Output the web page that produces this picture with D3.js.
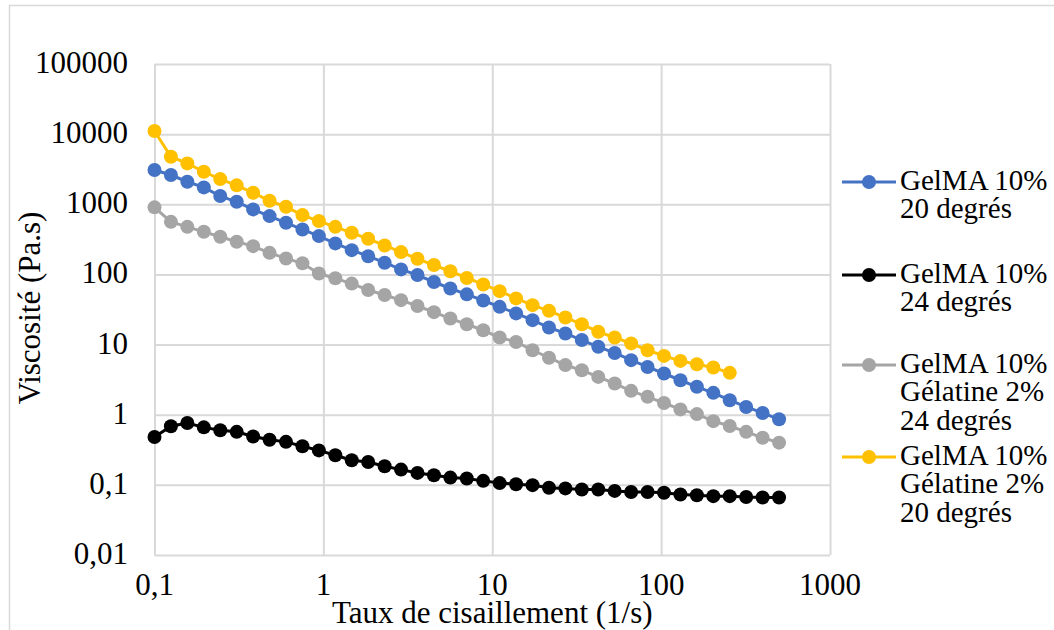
<!DOCTYPE html>
<html>
<head>
<meta charset="utf-8">
<script src="https://cdn.jsdelivr.net/npm/d3@7"></script>
</head>
<body style="margin:0">
<div id="chart"></div>
<script>
// shear rates (1/s), log ramp
var shearRate = [0.1, 0.1251, 0.1565, 0.1959, 0.2451, 0.3067, 0.3837, 0.4801, 0.6007, 0.7516,
    0.9404, 1.177, 1.472, 1.842, 2.305, 2.884, 3.608, 4.514, 5.648, 7.067,
    8.842, 11.06, 13.84, 17.32, 21.67, 27.11, 33.92, 42.44, 53.10, 66.44,
    83.13, 104.0, 130.1, 162.8, 203.7, 254.9, 318.9, 399.0, 499.3];

// viscosity (Pa.s) per series
var gelma20 = [3076, 2612, 2095, 1742, 1310, 1086, 845, 679, 545, 438,
    352, 277, 222, 182, 147, 118, 98, 78, 63, 52,
    42.5, 34.5, 27.8, 22.3, 17.5, 14.4, 11.6, 9.3, 7.6, 6.0,
    4.8, 3.87, 3.1, 2.5, 2.05, 1.61, 1.29, 1.06, 0.86];
var gelma24 = [0.48, 0.685, 0.76, 0.66, 0.60, 0.57, 0.49, 0.44, 0.41, 0.355,
    0.31, 0.264, 0.224, 0.212, 0.184, 0.165, 0.148, 0.137, 0.127, 0.123,
    0.114, 0.106, 0.102, 0.099, 0.091, 0.089, 0.086, 0.086, 0.082, 0.079,
    0.079, 0.077, 0.073, 0.071, 0.069, 0.069, 0.067, 0.066, 0.066];
var gelmaGel24 = [904, 562, 477, 405, 344, 292, 253, 203, 169, 144,
    103, 88, 74, 60, 51, 43, 35.5, 29, 23.5, 19.5,
    16, 12.6, 10.9, 8.3, 6.5, 5.1, 4.3, 3.46, 2.78, 2.19,
    1.8, 1.47, 1.19, 1.02, 0.81, 0.69, 0.57, 0.47, 0.40];
var gelmaGel20 = [11070, 4760, 3830, 2910, 2285, 1862, 1460, 1122, 921, 701,
    576, 477, 392, 322, 259, 208, 167, 136, 111, 89,
    72, 57.8, 45.5, 36.5, 30.3, 24.3, 19.5, 15.2, 12.6, 10.4,
    8.3, 6.9, 5.85, 5.25, 4.71, 3.95];

var seriesNames = [["GelMA 10%", "20 degrés"], ["GelMA 10%", "24 degrés"],
    ["GelMA 10%", "Gélatine 2%", "24 degrés"], ["GelMA 10%", "Gélatine 2%", "20 degrés"]];
var seriesColors = ["#4472C4", "#000000", "#A5A5A5", "#FFC000"];
var seriesValues = [gelma20, gelma24, gelmaGel24, gelmaGel20];

var xTicks = [0.1, 1, 10, 100, 1000];
var yTicks = [0.01, 0.1, 1, 10, 100, 1000, 10000, 100000];

var width = 1054, height = 630;
var margin = { top: 64, right: 224, bottom: 75, left: 154.5 };

var svg = d3.select("#chart")
    .append("svg")
    .attr("width", width)
    .attr("height", height);

svg.append("rect")
    .attr("width", width)
    .attr("height", height)
    .attr("fill", "white");

// chart area frame (cut off on right and bottom)
svg.append("rect")
    .attr("x", 9.5).attr("y", 5.5)
    .attr("width", width + 20).attr("height", height + 20)
    .attr("fill", "none")
    .attr("stroke", "#d9d9d9")
    .attr("stroke-width", 1.5);

var x = d3.scaleLog()
    .domain([0.1, 1000])
    .range([margin.left, width - margin.right]);

var y = d3.scaleLog()
    .domain([0.01, 100000])
    .range([height - margin.bottom, margin.top]);

function fmt(v) {
    return String(v).replace(".", ",");
}

// gridlines
svg.append("g")
    .attr("transform", "translate(0," + y.range()[0] + ")")
    .call(d3.axisBottom(x).tickValues(xTicks).tickSize(-(y.range()[0] - y.range()[1])).tickFormat(""))
    .call(g => g.select(".domain").remove())
    .call(g => g.selectAll("text").remove())
    .selectAll("line")
    .attr("stroke", "#d9d9d9")
    .attr("stroke-width", 2);

svg.append("g")
    .attr("transform", "translate(" + x.range()[0] + ",0)")
    .call(d3.axisLeft(y).tickValues(yTicks).tickSize(-(x.range()[1] - x.range()[0])).tickFormat(""))
    .call(g => g.select(".domain").remove())
    .call(g => g.selectAll("text").remove())
    .selectAll("line")
    .attr("stroke", "#d9d9d9")
    .attr("stroke-width", 2);

// all labels in one layer
var labels = svg.append("g");

function addText(t, px) {
    return labels.append("text")
        .style("font-family", "'Liberation Serif'")
        .style("font-size", px + "px")
        .text(t);
}

xTicks.forEach(function(v) {
    addText(fmt(v), 31)
        .attr("x", x(v))
        .attr("y", y.range()[0] + 40)
        .attr("text-anchor", "middle");
});

yTicks.forEach(function(v) {
    addText(fmt(v), 31)
        .attr("x", 128)
        .attr("y", y(v) + 9)
        .attr("text-anchor", "end");
});

// axis titles
addText("Taux de cisaillement (1/s)", 31)
    .attr("x", (x.range()[0] + x.range()[1]) / 2)
    .attr("y", 623)
    .attr("text-anchor", "middle");

addText("Viscosité (Pa.s)", 31)
    .attr("transform", "translate(40,308) rotate(-90)")
    .attr("text-anchor", "middle");

// series
var line = d3.line()
    .x((d, i) => x(shearRate[i]))
    .y(d => y(d));

seriesValues.forEach(function(vals, s) {
    svg.append("path")
        .datum(vals)
        .attr("d", line)
        .attr("fill", "none")
        .attr("stroke", seriesColors[s])
        .attr("stroke-width", 3);

    svg.append("g")
        .selectAll("circle")
        .data(vals)
        .enter()
        .append("circle")
        .attr("cx", (d, i) => x(shearRate[i]))
        .attr("cy", d => y(d))
        .attr("r", 7)
        .attr("fill", seriesColors[s]);
});

// legend
var legendY = [182, 275, 365, 457];
seriesNames.forEach(function(lines, s) {
    svg.append("line")
        .attr("x1", 842).attr("x2", 896)
        .attr("y1", legendY[s]).attr("y2", legendY[s])
        .attr("stroke", seriesColors[s])
        .attr("stroke-width", 3);
    svg.append("circle")
        .attr("cx", 869)
        .attr("cy", legendY[s])
        .attr("r", 7)
        .attr("fill", seriesColors[s]);
    lines.forEach(function(t, k) {
        addText(t, 29)
            .attr("x", 900)
            .attr("y", legendY[s] + 8 + k * 28.3);
    });
});
</script>
</body>
</html>
